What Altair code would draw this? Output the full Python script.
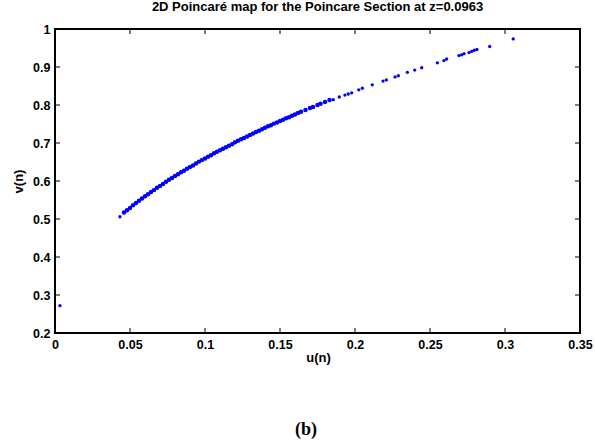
import altair as alt
import pandas as pd

# Poincaré section points u(n), v(n)
# stray early iterate and first point of the attractor branch
early_u = [0.0033, 0.0433]
early_v = [0.272, 0.506]

# densely populated part of the branch
dense_u = [0.046, 0.048, 0.050, 0.052, 0.054, 0.056, 0.058, 0.060, 0.062, 0.064,
           0.066, 0.068, 0.070, 0.072, 0.074, 0.076, 0.078, 0.080, 0.082, 0.084,
           0.086, 0.088, 0.090, 0.092, 0.094, 0.096, 0.098, 0.100, 0.102, 0.104,
           0.106, 0.108, 0.110, 0.112, 0.114, 0.116, 0.118, 0.120, 0.122, 0.124,
           0.126, 0.128, 0.130, 0.132, 0.134, 0.136, 0.138, 0.140, 0.142, 0.144,
           0.146, 0.148, 0.150, 0.152, 0.154, 0.156, 0.158, 0.160, 0.162, 0.164,
           0.167, 0.170, 0.172, 0.175, 0.177, 0.180, 0.183]
dense_v = [0.517, 0.523, 0.529, 0.536, 0.542, 0.548, 0.554, 0.560, 0.565, 0.571,
           0.576, 0.582, 0.587, 0.592, 0.598, 0.603, 0.608, 0.613, 0.618, 0.623,
           0.627, 0.632, 0.637, 0.641, 0.646, 0.651, 0.655, 0.659, 0.664, 0.668,
           0.673, 0.677, 0.681, 0.685, 0.689, 0.693, 0.697, 0.702, 0.706, 0.710,
           0.713, 0.717, 0.721, 0.725, 0.729, 0.732, 0.736, 0.740, 0.744, 0.747,
           0.751, 0.754, 0.758, 0.761, 0.765, 0.768, 0.772, 0.775, 0.779, 0.782,
           0.787, 0.792, 0.795, 0.800, 0.803, 0.808, 0.813]

# sparser tail of the branch
tail_u = [0.1855, 0.1895, 0.1933, 0.1955, 0.1978, 0.2025, 0.2049, 0.2115, 0.2187,
          0.2209, 0.2267, 0.2289, 0.2349, 0.2398, 0.2445, 0.2549, 0.2593, 0.2611,
          0.2693, 0.2711, 0.2727, 0.2760, 0.2778, 0.2795, 0.2813, 0.2898, 0.3055]
tail_v = [0.814, 0.821, 0.826, 0.829, 0.832, 0.840, 0.844, 0.853, 0.863,
          0.866, 0.874, 0.877, 0.886, 0.892, 0.898, 0.911, 0.917, 0.921,
          0.930, 0.932, 0.935, 0.938, 0.941, 0.944, 0.946, 0.954, 0.974]

x_ticks = [0, 0.05, 0.1, 0.15, 0.2, 0.25, 0.3, 0.35]
y_ticks = [0.2, 0.3, 0.4, 0.5, 0.6, 0.7, 0.8, 0.9, 1.0]

W, H = 525, 304
FONT = "Liberation Sans"
BLUE = "#0000ff"

sparse_df = pd.DataFrame({"u": early_u + tail_u, "v": early_v + tail_v})
dense_df = pd.DataFrame({"u": dense_u, "v": dense_v})

xscale = alt.Scale(domain=[0, 0.35], nice=False, zero=False)
yscale = alt.Scale(domain=[0.2, 1.0], nice=False, zero=False)

common_axis = dict(format="~g", grid=False, domain=False, ticks=False,
                   labelPadding=5, labelFont=FONT, labelFontWeight="bold",
                   labelFontSize=12.5, labelColor="black", labelFlush=False,
                   labelOverlap=False, titleFont=FONT, titleFontWeight="bold",
                   titleFontSize=13, titleColor="black")
xaxis = alt.Axis(values=x_ticks, title="u(n)", titleX=263, titleY=24,
                 titleBaseline="middle", **common_axis)
yaxis = alt.Axis(values=y_ticks, title="v(n)", titleX=-37, titleY=152,
                 titleAngle=270, titleAlign="center", titleBaseline="middle",
                 **common_axis)


def X(field):
    return alt.X(field, scale=xscale, axis=xaxis)


def Y(field):
    return alt.Y(field, scale=yscale, axis=yaxis)


sparse = alt.Chart(sparse_df).mark_circle(size=11, color=BLUE, opacity=1).encode(
    x=X("u:Q"), y=Y("v:Q"))
dense = alt.Chart(dense_df).mark_circle(size=20, color=BLUE, opacity=1).encode(
    x=X("u:Q"), y=Y("v:Q"))

# inward tick marks on all four sides of the box
xt_df = pd.DataFrame({"t": x_ticks})
yt_df = pd.DataFrame({"t": y_ticks})
tick_style = dict(color="black", thickness=1, size=5, opacity=1)
xt_bottom = alt.Chart(xt_df).mark_tick(orient="vertical", **tick_style).encode(
    x=X("t:Q"), y=alt.value(H - 2.5))
xt_top = alt.Chart(xt_df).mark_tick(orient="vertical", **tick_style).encode(
    x=X("t:Q"), y=alt.value(2.5))
yt_left = alt.Chart(yt_df).mark_tick(orient="horizontal", **tick_style).encode(
    y=Y("t:Q"), x=alt.value(2.5))
yt_right = alt.Chart(yt_df).mark_tick(orient="horizontal", **tick_style).encode(
    y=Y("t:Q"), x=alt.value(W - 2.5))

panel_label = alt.Chart(pd.DataFrame({"s": ["(b)"]})).mark_text(
    font="Liberation Serif", fontWeight="bold", fontSize=18, color="black",
    baseline="middle", align="center"
).encode(text="s:N", x=alt.value(251), y=alt.value(401))

chart = alt.layer(
    sparse, dense, xt_bottom, xt_top, yt_left, yt_right, panel_label
).properties(
    width=W, height=H,
    background="white",
    title=alt.TitleParams(
        "2D Poincaré map for the Poincare Section at z=0.0963",
        font=FONT, fontWeight="bold", fontSize=13, color="black",
        anchor="middle", offset=9,
    ),
    padding={"left": 55, "top": 29, "right": 15, "bottom": 111},
    autosize=alt.AutoSizeParams(type="none"),
).configure_view(
    stroke="black", strokeWidth=2
)

chart.save("out.html", embed_options={"renderer": "svg", "actions": False})
